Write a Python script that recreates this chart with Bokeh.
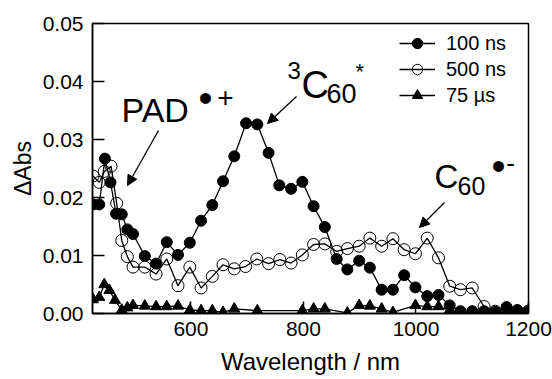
from bokeh.plotting import figure
from bokeh.models import (Label, Arrow, NormalHead, Legend, LegendItem,
                          FixedTicker, Range1d)
from bokeh.embed import file_html
from bokeh.resources import INLINE

# ---------------- data ----------------
x100 = [426, 437, 447, 457, 467, 477, 487, 497, 518, 538, 557, 577, 598, 618,
        638, 657, 677, 698, 718, 738, 757, 778, 798, 818, 838, 859, 878, 899,
        918, 939, 959, 979, 999, 1020, 1040, 1060, 1079, 1100, 1121, 1141,
        1161, 1180, 1200]
y100 = [0.0188, 0.0188, 0.0267, 0.0226, 0.0172, 0.0171, 0.0145, 0.0137,
        0.0099, 0.0086, 0.0123, 0.0101, 0.0122, 0.0160, 0.0187, 0.0228,
        0.0271, 0.0328, 0.0326, 0.0277, 0.0221, 0.0215, 0.0227, 0.0185,
        0.0149, 0.0094, 0.0076, 0.0091, 0.0079, 0.0041, 0.0041, 0.0066,
        0.0045, 0.0030, 0.0032, 0.0014, 0.0004, 0.0004, 0.0004, 0.0003,
        0.0011, 0.0006, 0.0005]

x500 = [426, 437, 446, 458, 468, 477, 487, 497, 518, 538, 557, 577, 598, 618,
        638, 657, 677, 697, 717, 738, 758, 778, 798, 818, 838, 859, 878, 899,
        918, 939, 959, 979, 999, 1020, 1040, 1060, 1079, 1100, 1121, 1141,
        1161, 1180, 1200]
y500 = [0.0237, 0.0226, 0.0245, 0.0254, 0.0190, 0.0126, 0.0098, 0.0080,
        0.0080, 0.0068, 0.0094, 0.0048, 0.0080, 0.0044, 0.0064, 0.0084,
        0.0077, 0.0081, 0.0094, 0.0086, 0.0093, 0.0087, 0.0101, 0.0119,
        0.0120, 0.0107, 0.0112, 0.0116, 0.0130, 0.0116, 0.0129, 0.0110,
        0.0103, 0.0130, 0.0096, 0.0047, 0.0041, 0.0044, 0.0012, 0.0004,
        0.0004, 0.0004, 0.0004]

x75 = [426, 437, 446, 455, 465, 477, 487, 497, 518, 538, 557, 577, 598, 618,
       638, 657, 677, 718, 798, 818, 838, 878, 899, 918, 939, 959, 999, 1020,
       1040, 1060, 1079, 1100, 1161, 1180, 1200]
y75 = [0.0024, 0.0028, 0.0050, 0.0040, 0.0023, 0.0006, 0.0010, 0.0014,
       0.0013, 0.0012, 0.0012, 0.0013, 0.0006, 0.0005, 0.0005, 0.0002,
       0.0008, 0.0005, 0.0005, 0.0008, 0.0008, 0.0001, 0.0014, 0.0013,
       0.0008, 0.0002, 0.0014, 0.0012, 0.0012, 0.0006, 0.0001, 0.0003,
       0.0001, 0.0005, 0.0005]

series_labels = ["100 ns", "500 ns", "75 \u00b5s"]
x_ticks = [600, 800, 1000, 1200]
y_ticks = [0.0, 0.01, 0.02, 0.03, 0.04, 0.05]
y_tick_labels = ["0.00", "0.01", "0.02", "0.03", "0.04", "0.05"]
x_title = "Wavelength / nm"
y_title = "\u0394Abs"

FONT = "Liberation Sans"
X0, X1 = 425, 1200
Y0, Y1 = 0.0, 0.05

p = figure(width=552, height=379, title=None,
           x_range=Range1d(X0, X1), y_range=Range1d(Y0, Y1),
           output_backend="svg", toolbar_location=None,
           min_border_left=92, min_border_right=24,
           min_border_top=23, min_border_bottom=66)
p.background_fill_color = "white"
p.border_fill_color = "white"
p.outline_line_color = "black"
p.outline_line_width = 1.5
p.xgrid.visible = False
p.ygrid.visible = False

for ax in (p.xaxis[0], p.yaxis[0]):
    ax.axis_line_width = 1.5
    ax.axis_line_color = "black"
    ax.major_tick_in = 12
    ax.major_tick_out = 0
    ax.major_tick_line_width = 1.5
    ax.minor_tick_in = 0
    ax.minor_tick_out = 0
    ax.major_label_text_font = FONT
    ax.major_label_text_font_size = "21px"
    ax.major_label_text_color = "black"
    ax.axis_label_text_font = FONT
    ax.axis_label_text_font_style = "normal"
    ax.axis_label_text_color = "black"

p.xaxis.ticker = FixedTicker(ticks=x_ticks)
p.yaxis.ticker = FixedTicker(ticks=y_ticks)
p.yaxis.major_label_overrides = {t: s for t, s in zip(y_ticks, y_tick_labels)}
p.xaxis.axis_label = x_title
p.yaxis.axis_label = y_title
p.xaxis.axis_label_text_font_size = "24px"
p.yaxis.axis_label_text_font_size = "23px"
p.xaxis.major_label_standoff = 8
p.xaxis.axis_label_standoff = 9
p.yaxis.major_label_standoff = 9
p.yaxis.axis_label_standoff = 4

l1 = p.line(x100, y100, line_color="black", line_width=1.3)
s1 = p.scatter(x100, y100, marker="circle", size=11, fill_color="black",
               line_color="black")
l2 = p.line(x500, y500, line_color="black", line_width=1.3)
s2 = p.scatter(x500, y500, marker="circle", size=12, fill_color="white",
               fill_alpha=0, line_color="black", line_width=1)
l3 = p.line(x75, y75, line_color="black", line_width=1.3)
s3 = p.scatter(x75, y75, marker="triangle", size=11, fill_color="black",
               line_color="black")

legend = Legend(items=[LegendItem(label=series_labels[0], renderers=[l1, s1]),
                       LegendItem(label=series_labels[1], renderers=[l2, s2]),
                       LegendItem(label=series_labels[2], renderers=[l3, s3])],
                location=(307, 205), padding=0, margin=0, spacing=0,
                glyph_width=36, glyph_height=26, label_height=26,
                label_standoff=11, label_text_font=FONT,
                label_text_font_size="20px", label_text_color="black",
                background_fill_alpha=0, border_line_alpha=0)
p.add_layout(legend)

# page pixel -> data helper for annotation placement (frame 92..528 x 23..313)
def px(x, y):
    return (X0 + (x - 92) * (X1 - X0) / 436.0,
            Y0 + (313 - y) * (Y1 - Y0) / 290.0)

def lab(x, y, text, size, align="left"):
    dx, dy = px(x, y)
    p.add_layout(Label(x=dx, y=dy, text=text, text_font=FONT,
                       text_font_size=size, text_color="black",
                       text_align=align, text_baseline="middle"))

def arrow(x0, y0, x1, y1):
    a, b = px(x0, y0)
    c, d = px(x1, y1)
    p.add_layout(Arrow(x_start=a, y_start=b, x_end=c, y_end=d,
                       line_color="black", line_width=1.3,
                       end=NormalHead(size=10, fill_color="black",
                                      line_color="black")))

# PAD radical cation
lab(121, 109, "PAD", "34px")
lab(205, 97, "\u2022", "40px", align="center")
lab(225, 97, "+", "28px", align="center")
arrow(158, 130, 127, 185)

# triplet C60
lab(287, 70, "3", "24px")
lab(301, 84, "C", "38px")
lab(326, 93, "60", "27px")
lab(355, 71, "*", "22px")
arrow(296, 96, 267, 123)

# C60 radical anion
lab(434, 176, "C", "33px")
lab(457, 185, "60", "25px")
lab(498, 165, "\u2022", "40px", align="center")
lab(510, 162, "-", "26px", align="center")
arrow(444, 202, 419, 227)

open("out.html", "w").write(file_html(p, INLINE))
